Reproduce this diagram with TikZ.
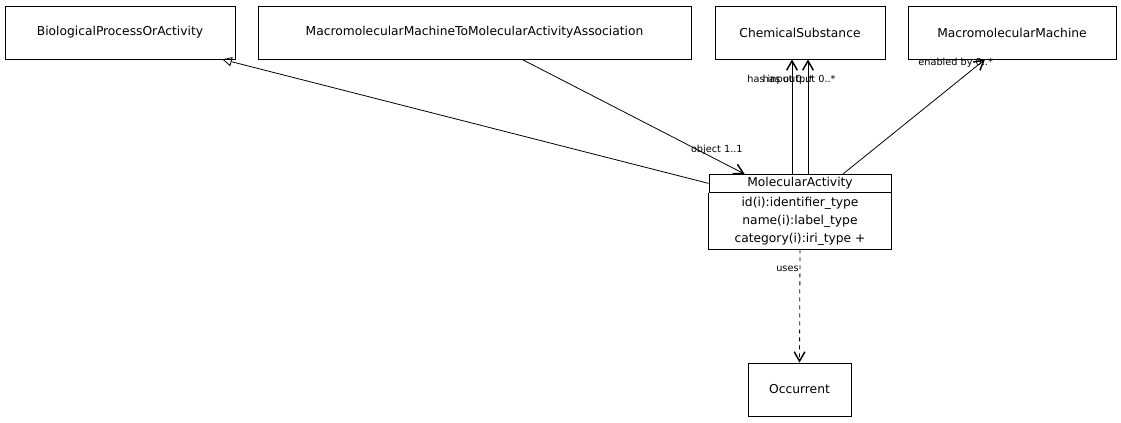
\documentclass[tikz,border=0pt]{standalone}
\usepackage{fontspec}
\setmainfont{DejaVu Sans}
\usetikzlibrary{arrows.meta, positioning, calc}

\begin{document}
\begin{tikzpicture}[x=0.75pt, y=-0.75pt, font=\fontsize{9.2}{11}\selectfont,
    cls/.style={draw, line width=0.6pt, minimum height=39.75pt, inner sep=1pt},
    assoc/.style={-{Straight Barb[length=7pt, width=8pt, line width=1.1pt]}, line width=0.6pt},
    inherit/.style={-{Triangle[open, length=7pt, width=7pt]}, line width=0.6pt},
    lbl/.style={font=\fontsize{7.3}{8}\selectfont, inner sep=0pt}]
\useasboundingbox (0,0) rectangle (1121,423);

% top row
\node[cls, minimum width=172.5pt] (bpa) at (120,32.5) {BiologicalProcessOrActivity};
\node[cls, minimum width=324.75pt] (mmAssoc) at (474.5,32.5)
   {MacromolecularMachineToMolecularActivityAssociation};
\node[cls, minimum width=127.5pt] (chem) at (800,32.5) {ChemicalSubstance};
\node[cls, minimum width=156pt] (mm) at (1012,32.5) {MacromolecularMachine};

% class with slots
\node[draw, line width=0.6pt, minimum width=136.5pt, minimum height=13.5pt,
      inner sep=0pt, anchor=north] (maHead) at (800,174) {MolecularActivity};
\node[minimum width=136.5pt, minimum height=42pt,
      inner sep=0pt, align=center, anchor=north,
      font=\fontsize{9.2}{13.5}\selectfont] (maBody) at (maHead.south)
   {id(i):identifier\_type\\name(i):label\_type\\category(i):iri\_type +};
\draw[line width=0.6pt] (maBody.north west) -- (maBody.south west)
   -- (maBody.south east) -- (maBody.north east);

\node[cls, minimum width=77.25pt] (occ) at (799.5,389.5) {Occurrent};

% connectors
\draw[inherit] (maHead.west) -- ($(bpa.south east)+(-13,0)$);
\draw[assoc] ($(mmAssoc.south)+(47.5,0)$) -- ($(maHead.north west)+(36,0)$)
   node[lbl, at end, anchor=west, xshift=-40.5pt, yshift=18pt] {object 1..1};
\draw[assoc] ($(maHead.north)+(-8,0)$) -- ($(chem.south)+(-8,0)$)
   node[lbl, at end, anchor=west, xshift=-33.75pt, yshift=-15pt] {has input 0..*};
\draw[assoc] ($(maHead.north)+(8,0)$) -- ($(chem.south)+(8,0)$)
   node[lbl, at end, anchor=east, xshift=21pt, yshift=-15pt] {has output 0..*};
\draw[assoc] ($(maHead.north)+(43,0)$) -- ($(mm.south)+(-27,0)$)
   node[lbl, at end, anchor=west, xshift=-50.25pt, yshift=-2.25pt] {enabled by 0..*};
\draw[assoc, dashed] (maBody.south) -- (occ.north)
   node[lbl, at start, anchor=east, xshift=-0.75pt, yshift=-15pt] {uses};

\end{tikzpicture}
\end{document}
